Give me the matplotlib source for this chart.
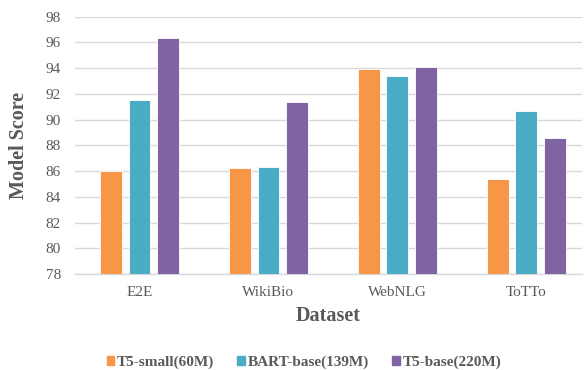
import numpy as np
import matplotlib.pyplot as plt
from matplotlib.patches import Patch

plt.rcParams['font.family'] = ['Liberation Serif', 'DejaVu Serif']

datasets = ['E2E', 'WikiBio', 'WebNLG', 'ToTTo']
models = ['T5-small(60M)', 'BART-base(139M)', 'T5-base(220M)']
t5_small = [86.0, 86.25, 93.9, 85.4]
bart_base = [91.55, 86.35, 93.4, 90.7]
t5_base = [96.35, 91.4, 94.1, 88.6]
colors = ['#F79646', '#4BACC6', '#8064A2']

gray = '#595959'
fig = plt.figure(figsize=(5.86, 3.7), dpi=100)
ax = fig.add_axes([0.128, 0.2595, 0.865, 0.6955])

x = np.arange(len(datasets))
width = 0.17
offset = 0.222
for i, (vals, c) in enumerate(zip([t5_small, bart_base, t5_base], colors)):
    ax.bar(x + (i - 1) * offset, vals, width, color=c, edgecolor='white',
           linewidth=0.6, zorder=3)

ax.set_ylim(78, 98)
ax.set_yticks(range(78, 99, 2))
ax.set_xlim(-0.5, 3.43)
ax.set_xticks(x)
ax.set_xticklabels(datasets)
ax.grid(axis='y', color='#D9D9D9', linewidth=1, zorder=0)
for s in ['top', 'right', 'left']:
    ax.spines[s].set_visible(False)
ax.spines['bottom'].set_color('#D9D9D9')
ax.spines['bottom'].set_linewidth(1)
ax.tick_params(length=0, labelsize=11, colors=gray, pad=9)
ax.tick_params(axis='y', pad=10)

ax.set_ylabel('Model Score', fontsize=14.5, fontweight='bold', color=gray, labelpad=12)
ax.set_xlabel('Dataset', fontsize=14.5, fontweight='bold', color=gray, labelpad=5)

handles = [Patch(color=c) for c in colors]
fig.legend(handles, models, loc='center', bbox_to_anchor=(0.519, 0.02),
           ncol=3, frameon=False, handlelength=0.5, handleheight=0.5,
           handletextpad=0.2, columnspacing=1.5,
           prop={'size': 11, 'weight': 'bold'}, labelcolor=gray)

fig.savefig('out.png', dpi=100)
